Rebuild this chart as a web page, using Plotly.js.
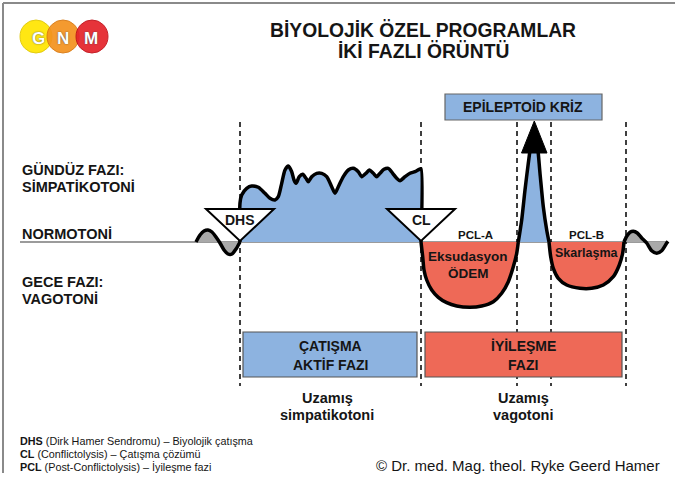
<!DOCTYPE html>
<html>
<head>
<meta charset="utf-8">
<script src="https://cdn.plot.ly/plotly-3.0.1.min.js"></script>
<style>html,body{margin:0;padding:0;background:#fff;}#chart{width:675px;height:486px;}</style>
</head>
<body>
<div id="chart"></div>
<script>
// ---- Data (x: time position, y: tone level relative to normotonia; + = sympathicotonia, - = vagotonia)
const leftWaveX = [196, 200, 204, 208, 212, 216, 220, 224, 228, 232, 236, 240];
const leftWaveY = [0, 7, 11, 12, 10, 5, -1, -8, -12, -12, -7, 0];

const sympX = [240, 240, 241.7, 246.7, 251.7, 258.3, 265, 270, 275, 278.3, 281.7, 285, 288.3, 291.7, 294, 296, 299.3, 302.7, 306, 308.3, 311.7, 316.7, 321.7, 326.7, 331.7, 335, 338.3, 343.3, 348.3, 353.3, 358.3, 361.7, 366, 369.3, 373.3, 376.7, 380, 384, 388.3, 392.7, 396.7, 400, 405, 410, 415, 419.3, 421, 421];
const sympY = [0, 39, 47, 53.7, 56, 54.7, 48.7, 43.7, 42, 45.3, 58.7, 72, 76, 70.3, 62, 58.7, 65.3, 67.7, 63.7, 60.3, 65.3, 68.7, 68.7, 65.3, 55.3, 48.7, 55.3, 65.3, 72, 73.7, 70.3, 65.3, 68.7, 72, 68.7, 65.3, 68.7, 72.7, 73.7, 68.7, 63.7, 61.3, 65.3, 68.7, 70.3, 72.7, 73.3, 0];

const pclAX = [421, 422.7, 424, 426.7, 431.7, 438.3, 446.7, 456.7, 470, 481.7, 493.3, 501.7, 508.3, 513.3, 516.7, 518.3];
const pclAY = [0, -14.7, -28, -38, -48, -55.3, -60.7, -64, -65.3, -64, -59.7, -51.3, -39.7, -24.7, -11.3, 0];

const spikeX = [518.3, 521.7, 525, 528.3, 531.7, 534.3, 536.7, 540, 543.3, 546.7, 549];
const spikeY = [0, 22, 52, 78.7, 102, 108, 102, 68.7, 35.3, 12, 0];

const pclBX = [549, 550.7, 553.3, 558.3, 566.7, 580, 591.7, 603.3, 613.3, 619.3, 622.7, 624];
const pclBY = [0, -14.7, -26.3, -36.3, -43, -46.3, -46.3, -43, -34.7, -23, -11, 0];

const rightWaveX = [624, 626.7, 630, 633.3, 637.3, 641.7, 646.7, 651.7, 656.7, 661.7, 666.7, 668];
const rightWaveY = [0, 5.7, 9.7, 10.7, 9, 4, -1, -8.7, -11.3, -8.7, -1, 0.7];

const phaseX = [240, 421, 517, 551, 626];           // DHS, CL, crisis start, crisis end, end of PCL
const phaseLabels = ["DHS", "CL"];

const leftLabels = ["GÜNDÜZ FAZI:", "SİMPATİKOTONİ", "NORMOTONİ", "GECE FAZI:", "VAGOTONİ"];
const titleLines = ["BİYOLOJİK ÖZEL PROGRAMLAR", "İKİ FAZLI ÖRÜNTÜ"];
const phaseBoxLabels = [["ÇATIŞMA", "AKTİF FAZI"], ["İYİLEŞME", "FAZI"]];
const longTermLabels = [["Uzamış", "simpatikotoni"], ["Uzamış", "vagotoni"]];
const footnotes = [
  "<b>DHS</b> (Dirk Hamer Sendromu) – Biyolojik çatışma",
  "<b>CL</b> (Conflictolysis) – Çatışma çözümü",
  "<b>PCL</b> (Post-Conflictolysis) – İyileşme fazi"
];
const copyright = "© Dr. med. Mag. theol. Ryke Geerd Hamer";

// ---- Styling
const BASE = 242; // pixel row of the normotonia line
const Y = py => BASE - py;
const BLUE = '#8DB3E0', RED = '#EE6957', GREY = '#A9A9A9', INK = '#151515';
const FONT = 'Liberation Sans, Arial, Helvetica, sans-serif';

function seg(x, y, fill) {
  return {x: x, y: y, mode: 'lines', fill: 'tozeroy', fillcolor: fill,
    line: {color: '#000', width: 3.5, shape: 'spline', smoothing: 0.7},
    hoverinfo: 'skip', showlegend: false};
}
const traces = [
  seg(leftWaveX, leftWaveY, GREY),
  seg(sympX, sympY, BLUE),
  seg(pclAX, pclAY, RED),
  seg(spikeX, spikeY, BLUE),
  seg(pclBX, pclBY, RED),
  seg(rightWaveX, rightWaveY, GREY)
];

const shapes = [];
// frame
shapes.push({type: 'line', xref: 'x', yref: 'y', x0: 3, x1: 3, y0: Y(3), y1: Y(473), line: {color: '#8a8a8a', width: 2}});
shapes.push({type: 'line', xref: 'x', yref: 'y', x0: 3, x1: 675, y0: Y(3), y1: Y(3), line: {color: '#8a8a8a', width: 2}});
// normotonia baseline
shapes.push({type: 'line', layer: 'below', xref: 'x', yref: 'y', x0: 20, x1: 668, y0: 0, y1: 0, line: {color: '#7a7a7a', width: 1.5}});
// phase dashed lines
phaseX.forEach(px => shapes.push({type: 'line', layer: 'below', xref: 'x', yref: 'y', x0: px, x1: px, y0: Y(122), y1: Y(386),
  line: {color: '#000', width: 1.5, dash: '5px,4px'}}));
// DHS / CL triangles
[phaseX[0], phaseX[1]].forEach(px => shapes.push({type: 'path', xref: 'x', yref: 'y',
  path: `M ${px - 34},${Y(209)} L ${px + 34},${Y(209)} L ${px},${Y(241)} Z`,
  fillcolor: '#fff', line: {color: '#000', width: 2}}));
// arrow head of epileptoid crisis
shapes.push({type: 'path', xref: 'x', yref: 'y',
  path: `M 521.5,${Y(153)} L 547,${Y(153)} L 534.3,${Y(121)} Z`, fillcolor: '#000', line: {color: '#000', width: 1}});
// boxes
shapes.push({type: 'rect', xref: 'x', yref: 'y', x0: 445, x1: 602, y0: Y(94), y1: Y(120), fillcolor: BLUE, line: {color: '#666', width: 1.2}});
shapes.push({type: 'rect', xref: 'x', yref: 'y', x0: 243, x1: 417, y0: Y(332), y1: Y(377), fillcolor: BLUE, line: {color: '#555', width: 1.2}});
shapes.push({type: 'rect', xref: 'x', yref: 'y', x0: 425, x1: 622, y0: Y(332), y1: Y(377), fillcolor: RED, line: {color: '#555', width: 1.2}});
// GNM logo
[[36, '#FFE500', '#e0c800'], [63, '#F4921E', '#d87810'], [92, '#E4222A', '#c01018']].forEach(c => shapes.push({
  type: 'circle', xref: 'x', yref: 'y', x0: c[0] - 16, x1: c[0] + 16, y0: Y(20), y1: Y(53),
  fillcolor: c[1], opacity: 0.92, line: {color: c[2], width: 1}}));

const annotations = [];
function txt(text, x, py, size, opts) {
  const o = Object.assign({text: text, x: x, y: Y(py), xref: 'x', yref: 'y', showarrow: false,
    xanchor: 'center', yanchor: 'middle', font: {family: FONT, size: size, color: INK}}, opts || {});
  annotations.push(o);
}
txt('<b>' + titleLines[0] + '</b>', 423, 30, 19.3);
txt('<b>' + titleLines[1] + '</b>', 423, 51, 19.3);
[170, 187, 234, 282, 299].forEach((py, i) => txt('<b>' + leftLabels[i] + '</b>', 20, py, 14.5, {xanchor: 'left'}));
txt('<b>' + phaseLabels[0] + '</b>', phaseX[0], 220, 14);
txt('<b>' + phaseLabels[1] + '</b>', phaseX[1], 220, 14);
txt('<b>PCL-A</b>', 475, 235, 11.5);
txt('<b>PCL-B</b>', 586, 235, 11.5);
txt('<b>Eksudasyon</b>', 468, 256, 13.5);
txt('<b>ÖDEM</b>', 468, 273, 13.5);
txt('<b>Skarlaşma</b>', 587, 253, 12.5);
txt('<b>EPİLEPTOİD KRİZ</b>', 523, 107, 14);
txt('<b>' + phaseBoxLabels[0][0] + '</b>', 330, 346, 14);
txt('<b>' + phaseBoxLabels[0][1] + '</b>', 330, 365, 14);
txt('<b>' + phaseBoxLabels[1][0] + '</b>', 523, 346, 14);
txt('<b>' + phaseBoxLabels[1][1] + '</b>', 523, 365, 14);
txt('<b>' + longTermLabels[0][0] + '</b>', 327, 398, 14.5);
txt('<b>' + longTermLabels[0][1] + '</b>', 327, 415, 14.5);
txt('<b>' + longTermLabels[1][0] + '</b>', 523, 398, 14.5);
txt('<b>' + longTermLabels[1][1] + '</b>', 523, 415, 14.5);
[441, 454, 467].forEach((py, i) => txt(footnotes[i], 18, py, 10.8, {xanchor: 'left'}));
txt(copyright, 662, 465, 15, {xanchor: 'right'});
[['G', 38], ['N', 63], ['M', 91]].forEach(l => txt('<b>' + l[0] + '</b>', l[1], 38, 17,
  {font: {family: FONT, size: 17, color: '#fff', shadow: '0 0 1.5px #444'}}));

const layout = {
  width: 675, height: 486,
  margin: {l: 0, r: 0, t: 0, b: 0, pad: 0},
  paper_bgcolor: '#fff', plot_bgcolor: '#fff',
  xaxis: {range: [0, 675], visible: false, fixedrange: true},
  yaxis: {range: [BASE - 486, BASE], visible: false, fixedrange: true},
  showlegend: false,
  shapes: shapes,
  annotations: annotations
};
Plotly.newPlot('chart', traces, layout, {displayModeBar: false, staticPlot: true});
</script>
</body>
</html>
